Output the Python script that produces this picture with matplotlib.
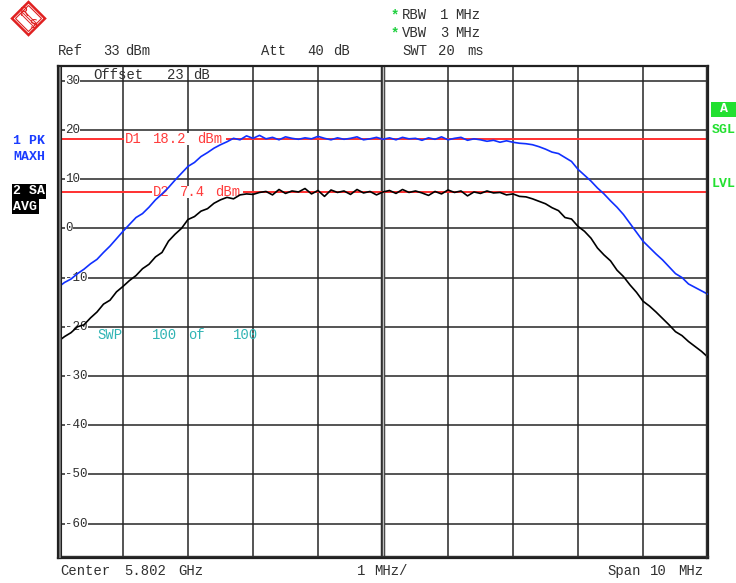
import numpy as np
import matplotlib
matplotlib.use("Agg")
import matplotlib.pyplot as plt
from matplotlib.lines import Line2D
from matplotlib.patches import Rectangle, Polygon

# ---- data (frequency offset from centre, MHz) ----
freq_mhz = [round(-5.0 + 0.1 * i, 1) for i in range(101)]

trace1_maxh = [
    -12.0, -11.0, -10.3, -9.2, -8.3, -7.2, -6.3, -4.9, -3.6, -2.1,
    -0.6, 0.8, 2.2, 3.0, 4.3, 5.8, 7.0, 8.3, 9.8, 11.2,
    12.6, 13.4, 14.6, 15.4, 16.3, 17.0, 17.6, 18.3, 18.0, 18.8,
    18.3, 18.9, 18.2, 18.5, 18.0, 18.6, 18.3, 18.1, 18.4, 18.2,
    18.7, 18.3, 18.0, 18.4, 18.1, 18.3, 18.6, 18.0, 18.2, 18.5,
    18.1, 18.4, 18.0, 18.5, 18.2, 18.3, 17.9, 18.4, 18.1, 18.6,
    18.0, 18.3, 18.5, 17.9, 18.2, 18.0, 17.7, 17.9, 17.5, 17.8,
    17.5, 17.3, 17.2, 17.0, 16.6, 16.1, 15.5, 15.2, 14.4, 13.6,
    12.0, 10.8, 9.6, 8.2, 7.0, 5.6, 4.3, 2.8, 1.0, -0.8,
    -2.6, -3.9, -5.2, -6.4, -7.8, -9.2, -10.0, -11.3, -12.0, -12.7,
    -13.4,
]

trace2_avg = [
    -23.0, -22.0, -21.2, -20.0, -19.6, -18.2, -17.0, -15.4, -14.6, -12.9,
    -11.8, -10.6, -9.6, -8.2, -7.3, -5.8, -4.9, -2.6, -1.2, 0.0,
    1.8, 2.4, 3.5, 4.0, 5.1, 5.8, 6.3, 6.0, 6.8, 7.0,
    6.9, 7.3, 7.5, 6.8, 7.9, 7.1, 7.6, 7.4, 8.1, 7.0,
    7.7, 6.5, 7.8, 7.3, 7.6, 6.9, 7.9, 7.2, 7.5, 6.8,
    7.4, 7.7, 7.1, 7.9, 7.3, 7.6, 7.2, 6.7, 7.5, 7.0,
    7.8, 7.3, 7.6, 6.6, 7.4, 7.1, 7.6, 7.2, 7.3, 6.8,
    7.0, 6.5, 6.4, 6.0, 5.5, 5.0, 4.2, 3.6, 2.2, 1.9,
    0.4, -0.6, -2.0, -4.0, -5.4, -6.6, -8.5, -9.8, -11.5, -13.0,
    -14.8, -15.8, -17.0, -18.3, -19.6, -21.0, -21.8, -23.0, -24.0, -25.0,
    -26.2,
]

d1_level = 18.2
d2_level = 7.4
y_grid = [30, 20, 10, 0, -10, -20, -30, -40, -50, -60]
y_labels = ["30", "20", "10", "0", "-10", "-20", "-30", "-40", "-50", "-60"]
x_grid = [-4, -3, -2, -1, 1, 2, 3, 4]

W, H = 736, 583
MONO = "Liberation Mono"

fig = plt.figure(figsize=(W / 100, H / 100), dpi=100)
fig.patch.set_facecolor("white")


def fx(px):
    return px / W


def fy(py):
    return 1 - py / H


ax = fig.add_axes([fx(58), fy(558), (708 - 58) / W, (558 - 66) / H])
ax.set_xlim(-5, 5)
ax.set_ylim(-67, 33)
ax.set_xticks([])
ax.set_yticks([])
for s in ax.spines.values():
    s.set_color("#202020")
    s.set_linewidth(1.6)

grid_col = "#262626"
for g in y_grid:
    ax.axhline(g, color=grid_col, lw=1.1, zorder=1)
for g in x_grid:
    ax.axvline(g, color=grid_col, lw=1.1, zorder=1)
# double centre line
ax.axvline(0, color="#303030", lw=3.2, zorder=1)
ax.axvline(0, color="#bdbdbd", lw=1.0, zorder=1)

# y labels on white background inside plot
for g, lab in zip(y_grid, y_labels):
    ax.text((65 - 58) / 650, g, lab, transform=ax.get_yaxis_transform(),
            family=MONO, fontsize=9, color="#303030", va="center", ha="left",
            zorder=2, bbox=dict(facecolor="white", edgecolor="none", pad=0.3))

# display lines
ax.axhline(d1_level, color="#ff3030", lw=1.4, zorder=2)
ax.axhline(d2_level, color="#ff3030", lw=1.4, zorder=2)


def axword(px, val, s, color, z=3):
    ax.text((px - 58) / 650, val, s, transform=ax.get_yaxis_transform(),
            family=MONO, fontsize=10, color=color, va="center", ha="left",
            zorder=z)


red = "#ff3c3c"
# white background strips behind marker labels
ax.add_patch(Rectangle(((124 - 58) / 650, d1_level - 1.2), (226 - 124) / 650, 2.4,
                       transform=ax.get_yaxis_transform(), facecolor="white",
                       edgecolor="none", zorder=2.5))
ax.add_patch(Rectangle(((152 - 58) / 650, d2_level - 1.2), (243 - 152) / 650, 2.4,
                       transform=ax.get_yaxis_transform(), facecolor="white",
                       edgecolor="none", zorder=2.5))
axword(125, d1_level, "D1", red)
axword(153, d1_level, "18.2", red)
axword(197, d1_level, "dBm", red)
axword(153, d2_level, "D2", red)
axword(180, d2_level, "7.4", red)
axword(215, d2_level, "dBm", red)

# traces
ax.plot(freq_mhz, trace1_maxh, color="#1030ff", lw=1.2, zorder=4)
ax.plot(freq_mhz, trace2_avg, color="#000000", lw=1.2, zorder=4)

cyan = "#30b4b4"
yswp = (228 - 335) / 4.92
axword(97, yswp, "SWP", cyan, z=5)
axword(152, yswp, "100", cyan, z=5)
axword(188, yswp, "of", cyan, z=5)
axword(233, yswp, "100", cyan, z=5)
yoff = (228 - 75) / 4.92
axword(93, yoff, "Offset", "#303030", z=5)
axword(167, yoff, "23", "#303030", z=5)
axword(193, yoff, "dB", "#303030", z=5)

# left border gray band
fig.patches.append(Rectangle((fx(58), fy(558)), 3 / W, (558 - 66) / H,
                             transform=fig.transFigure, facecolor="#7a7a7a",
                             edgecolor="#202020", lw=0.8, zorder=5))
fig.lines.append(Line2D([fx(58), fx(708)], [fy(555.5), fy(555.5)],
                        transform=fig.transFigure, color="#303030", lw=1.0))
fig.lines.append(Line2D([fx(705.5), fx(705.5)], [fy(66), fy(558)],
                        transform=fig.transFigure, color="#303030", lw=1.0))


def t(px, py, s, color="#303030", size=10, weight="normal", ha="left", **kw):
    fig.text(fx(px), fy(py), s, family=MONO, fontsize=size, color=color,
             weight=weight, ha=ha, va="center", **kw)


# header texts (word positions as on the screen)
t(58, 51, "Ref"); t(103, 51, "33"); t(125, 51, "dBm")
t(261, 51, "Att"); t(307, 51, "40"); t(333, 51, "dB")
t(402, 51, "SWT"); t(438, 51, "20"); t(467, 51, "ms")
t(402, 15, "RBW"); t(440, 15, "1"); t(455, 15, "MHz")
t(402, 33, "VBW"); t(440, 33, "3"); t(455, 33, "MHz")
t(391, 15, "*", color="#20d040", size=10, weight="bold")
t(391, 33, "*", color="#20d040", size=10, weight="bold")

# footer texts
t(60, 571, "Center"); t(124, 571, "5.802"); t(178, 571, "GHz")
t(357, 571, "1"); t(374, 571, "MHz/")
t(607, 571, "Span"); t(650, 571, "10"); t(678, 571, "MHz")

# trace info
t(13, 141, "1 PK", color="#1a3cff", size=9.5, weight="bold")
t(13, 157, "MAXH", color="#1a3cff", size=9.5, weight="bold")
fig.patches.append(Rectangle((fx(12), fy(199)), 34 / W, 15 / H, transform=fig.transFigure,
                             facecolor="black", edgecolor="none"))
fig.patches.append(Rectangle((fx(12), fy(214)), 27 / W, 15 / H, transform=fig.transFigure,
                             facecolor="black", edgecolor="none"))
t(13, 191.5, "2 SA", color="white", size=9.5, weight="bold")
t(13, 206.5, "AVG", color="white", size=9.5, weight="bold")

# right side status
fig.patches.append(Rectangle((fx(711), fy(117)), 25 / W, 15 / H, transform=fig.transFigure,
                             facecolor="#22e030", edgecolor="none"))
t(723.5, 109.5, "A", color="white", size=9.5, weight="bold", ha="center")
t(712, 130, "SGL", color="#22e030", size=9.5, weight="bold")
t(712, 184, "LVL", color="#22e030", size=9.5, weight="bold")

# R&S logo
cx, cy, r = 28.5, 18.5, 16.5
outer = [(cx, cy - r), (cx + r, cy), (cx, cy + r), (cx - r, cy)]
fig.patches.append(Polygon([(fx(a), fy(b)) for a, b in outer], closed=True,
                           transform=fig.transFigure, facecolor="white",
                           edgecolor="#e02020", lw=1.8))
ri = 13.0
inner = [(cx, cy - ri), (cx + ri, cy), (cx, cy + ri), (cx - ri, cy)]
fig.patches.append(Polygon([(fx(a), fy(b)) for a, b in inner], closed=True,
                           transform=fig.transFigure, facecolor="none",
                           edgecolor="#e02020", lw=0.8))
for off in (-1.5, 0, 1.5):
    fig.lines.append(Line2D([fx(cx - 6.5 + off), fx(cx + 6.5 + off)],
                            [fy(cy - 6.5 - off), fy(cy + 6.5 - off)],
                            transform=fig.transFigure, color="#e02020", lw=0.7))
fig.text(fx(24), fy(13), "R", family="DejaVu Sans", fontsize=9, color="#e02020",
         ha="center", va="center")
fig.text(fx(33), fy(24), "S", family="DejaVu Sans", fontsize=9, color="#e02020",
         ha="center", va="center")

fig.savefig("out.png", dpi=100, facecolor="white")
